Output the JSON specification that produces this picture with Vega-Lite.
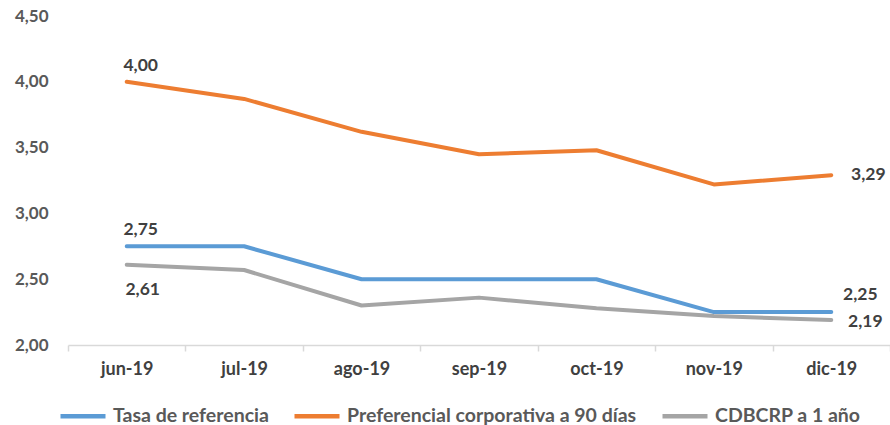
{
  "$schema": "https://vega.github.io/schema/vega-lite/v6.json",
  "width": 822,
  "height": 329,
  "autosize": "none",
  "padding": {"left": 68, "top": 16, "right": 0, "bottom": 80},
  "background": "white",
  "config": {
    "locale": {"number": {"decimal": ",", "thousands": ".", "grouping": [3], "currency": ["", ""]}},
    "view": {"stroke": null},
    "font": "Lato"
  },
  "data": {
    "values": [
      {"mes": "jun-19", "serie": "Tasa de referencia", "valor": 2.75},
      {"mes": "jul-19", "serie": "Tasa de referencia", "valor": 2.75},
      {"mes": "ago-19", "serie": "Tasa de referencia", "valor": 2.50},
      {"mes": "sep-19", "serie": "Tasa de referencia", "valor": 2.50},
      {"mes": "oct-19", "serie": "Tasa de referencia", "valor": 2.50},
      {"mes": "nov-19", "serie": "Tasa de referencia", "valor": 2.25},
      {"mes": "dic-19", "serie": "Tasa de referencia", "valor": 2.25},
      {"mes": "jun-19", "serie": "Preferencial corporativa a 90 días", "valor": 4.00},
      {"mes": "jul-19", "serie": "Preferencial corporativa a 90 días", "valor": 3.87},
      {"mes": "ago-19", "serie": "Preferencial corporativa a 90 días", "valor": 3.62},
      {"mes": "sep-19", "serie": "Preferencial corporativa a 90 días", "valor": 3.45},
      {"mes": "oct-19", "serie": "Preferencial corporativa a 90 días", "valor": 3.48},
      {"mes": "nov-19", "serie": "Preferencial corporativa a 90 días", "valor": 3.22},
      {"mes": "dic-19", "serie": "Preferencial corporativa a 90 días", "valor": 3.29},
      {"mes": "jun-19", "serie": "CDBCRP a 1 año", "valor": 2.61},
      {"mes": "jul-19", "serie": "CDBCRP a 1 año", "valor": 2.57},
      {"mes": "ago-19", "serie": "CDBCRP a 1 año", "valor": 2.30},
      {"mes": "sep-19", "serie": "CDBCRP a 1 año", "valor": 2.36},
      {"mes": "oct-19", "serie": "CDBCRP a 1 año", "valor": 2.28},
      {"mes": "nov-19", "serie": "CDBCRP a 1 año", "valor": 2.22},
      {"mes": "dic-19", "serie": "CDBCRP a 1 año", "valor": 2.19}
    ]
  },
  "encoding": {
    "x": {
      "field": "mes", "type": "ordinal", "sort": null,
      "scale": {"type": "band", "paddingInner": 0, "paddingOuter": 0},
      "axis": {
        "title": null, "labelAngle": 0, "labelFont": "Lato", "labelFontWeight": "bold",
        "labelFontSize": 18, "labelColor": "#404040", "labelPadding": 9,
        "domainColor": "#d9d9d9", "domainWidth": 1.5, "tickColor": "#d9d9d9", "tickWidth": 1.5,
        "tickSize": 6, "tickBand": "extent", "grid": false
      }
    },
    "y": {
      "field": "valor", "type": "quantitative",
      "scale": {"domain": [2, 4.5], "nice": false, "zero": false},
      "axis": {
        "title": null, "values": [2, 2.5, 3, 3.5, 4, 4.5], "format": ".2f",
        "domain": false, "ticks": false, "tickSize": 0, "grid": false, "labelFont": "Lato",
        "labelFontWeight": "bold", "labelFontSize": 17, "labelColor": "#595959", "labelPadding": 20
      }
    }
  },
  "layer": [
    {
      "mark": {"type": "line", "strokeWidth": 4, "strokeCap": "round", "strokeJoin": "round"},
      "encoding": {
        "color": {
          "field": "serie", "type": "nominal",
          "scale": {
            "domain": ["Tasa de referencia", "Preferencial corporativa a 90 días", "CDBCRP a 1 año"],
            "range": ["#5b9bd5", "#ed7d31", "#a5a5a5"]
          },
          "legend": {
            "title": null, "orient": "none", "direction": "horizontal",
            "legendX": -10, "legendY": 375,
            "symbolType": "stroke", "symbolSize": 2025, "symbolStrokeWidth": 4.5,
            "labelFont": "Lato", "labelFontSize": 19.5, "labelFontWeight": "bold", "labelLimit": 0,
            "labelColor": "#595959", "columnPadding": 16, "labelOffset": 5
          }
        }
      }
    },
    {
      "transform": [{"filter": "datum.mes == 'jun-19' && datum.serie != 'CDBCRP a 1 año'"}],
      "mark": {"type": "text", "dx": 14, "dy": -16, "font": "Lato", "fontWeight": "bold", "fontSize": 17.5, "color": "#404040"},
      "encoding": {"text": {"field": "valor", "type": "quantitative", "format": ".2f"}}
    },
    {
      "transform": [{"filter": "datum.mes == 'jun-19' && datum.serie == 'CDBCRP a 1 año'"}],
      "mark": {"type": "text", "dx": 16, "dy": 25, "font": "Lato", "fontWeight": "bold", "fontSize": 17.5, "color": "#404040"},
      "encoding": {"text": {"field": "valor", "type": "quantitative", "format": ".2f"}}
    },
    {
      "transform": [{"filter": "datum.mes == 'dic-19' && datum.serie == 'Preferencial corporativa a 90 días'"}],
      "mark": {"type": "text", "dx": 37, "dy": 0, "font": "Lato", "fontWeight": "bold", "fontSize": 17.5, "color": "#404040"},
      "encoding": {"text": {"field": "valor", "type": "quantitative", "format": ".2f"}}
    },
    {
      "transform": [{"filter": "datum.mes == 'dic-19' && datum.serie == 'Tasa de referencia'"}],
      "mark": {"type": "text", "dx": 29, "dy": -17, "font": "Lato", "fontWeight": "bold", "fontSize": 17.5, "color": "#404040"},
      "encoding": {"text": {"field": "valor", "type": "quantitative", "format": ".2f"}}
    },
    {
      "transform": [{"filter": "datum.mes == 'dic-19' && datum.serie == 'CDBCRP a 1 año'"}],
      "mark": {"type": "text", "dx": 34, "dy": 2, "font": "Lato", "fontWeight": "bold", "fontSize": 17.5, "color": "#404040"},
      "encoding": {"text": {"field": "valor", "type": "quantitative", "format": ".2f"}}
    }
  ]
}
